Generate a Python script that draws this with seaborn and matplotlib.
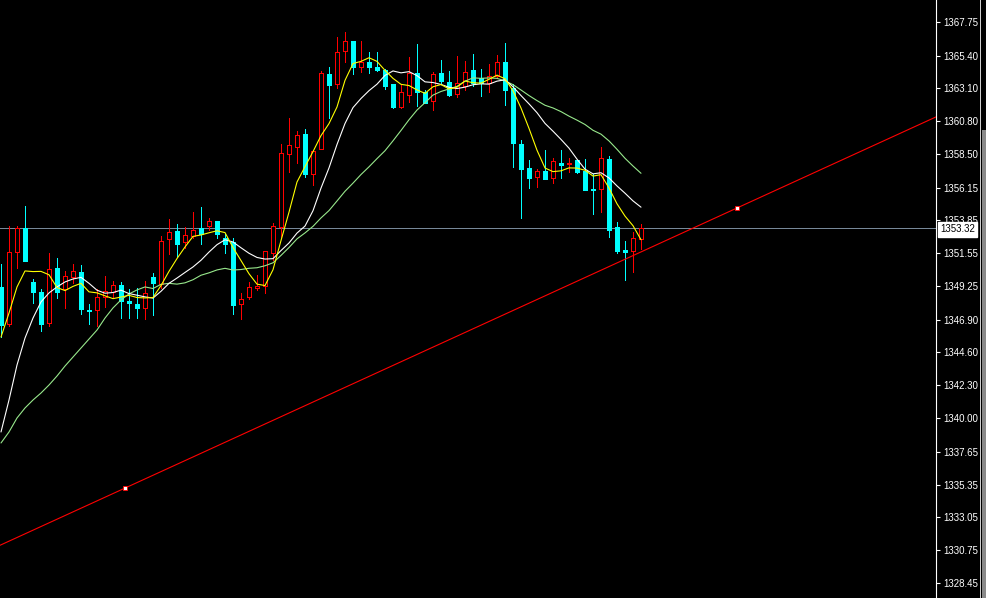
import numpy as np
import pandas as pd
import matplotlib
matplotlib.use("Agg")
import matplotlib.pyplot as plt
from matplotlib.patches import Rectangle
import seaborn as sns

# ---------------- data ----------------
opens = [1349.19, 1346.59, 1351.64, 1353.32, 1349.54, 1348.84, 1346.66, 1350.52, 1349.05, 1349.89,
         1350.24, 1347.57, 1347.57, 1348.49, 1348.84, 1349.33, 1348.21, 1348.00, 1347.72, 1349.89,
         1349.40, 1352.55, 1353.11, 1352.34, 1352.76, 1353.32, 1353.46, 1353.81, 1352.62, 1352.34,
         1348.00, 1348.49, 1349.15, 1349.26, 1351.57, 1353.39, 1358.50, 1358.99, 1359.90, 1357.10,
         1358.85, 1364.11, 1363.41, 1365.72, 1366.42, 1364.60, 1364.95, 1364.60, 1364.39, 1363.41,
         1361.80, 1362.64, 1364.18, 1362.85, 1362.22, 1364.18, 1363.55, 1362.71, 1363.27, 1364.39,
         1363.83, 1363.48, 1363.97, 1364.95, 1363.13, 1359.20, 1357.52, 1356.89, 1357.31, 1356.82,
         1357.87, 1357.78, 1358.08, 1357.31, 1356.05, 1356.05, 1358.15, 1353.39, 1351.78, 1351.71,
         1352.55]
highs = [1350.80, 1353.46, 1353.46, 1354.86, 1349.75, 1349.05, 1351.57, 1351.22, 1350.31, 1350.80,
         1350.73, 1348.00, 1349.05, 1349.96, 1349.61, 1349.54, 1349.05, 1349.12, 1349.61, 1350.17,
         1352.76, 1353.95, 1353.60, 1353.39, 1354.44, 1354.79, 1354.02, 1353.81, 1352.90, 1352.62,
         1348.77, 1349.54, 1350.03, 1351.71, 1353.67, 1359.20, 1361.02, 1360.11, 1360.25, 1358.71,
         1364.32, 1364.60, 1366.70, 1367.05, 1366.42, 1366.42, 1365.65, 1365.65, 1364.46, 1363.41,
         1363.41, 1365.30, 1366.21, 1362.99, 1364.25, 1365.09, 1364.32, 1365.37, 1365.02, 1365.51,
         1364.46, 1364.81, 1365.44, 1366.28, 1363.41, 1359.48, 1358.08, 1357.45, 1358.78, 1358.22,
         1358.78, 1358.22, 1358.08, 1358.15, 1357.10, 1358.99, 1358.36, 1353.74, 1352.41, 1353.04,
         1353.60]
lows = [1345.68, 1346.45, 1350.52, 1351.01, 1348.07, 1346.10, 1346.45, 1348.42, 1347.72, 1349.47,
        1347.29, 1346.59, 1346.45, 1347.79, 1348.42, 1347.01, 1347.01, 1347.01, 1346.94, 1347.22,
        1349.12, 1351.50, 1351.29, 1351.92, 1352.62, 1352.20, 1353.18, 1352.62, 1351.57, 1347.29,
        1346.94, 1348.35, 1348.98, 1348.77, 1351.08, 1352.69, 1357.24, 1357.87, 1356.89, 1356.33,
        1358.85, 1361.02, 1363.13, 1364.95, 1364.11, 1364.25, 1364.18, 1364.32, 1363.06, 1361.73,
        1361.73, 1362.15, 1361.87, 1362.08, 1361.58, 1363.48, 1362.57, 1362.50, 1362.99, 1363.27,
        1362.57, 1362.85, 1363.83, 1361.94, 1357.59, 1354.02, 1356.12, 1356.19, 1356.75, 1356.47,
        1356.82, 1357.24, 1357.17, 1355.98, 1354.30, 1354.44, 1352.69, 1351.57, 1349.68, 1350.24,
        1351.85]
closes = [1346.52, 1351.64, 1353.32, 1351.01, 1348.84, 1346.59, 1350.45, 1348.84, 1349.96, 1350.31,
          1347.65, 1347.47, 1348.49, 1348.91, 1349.33, 1348.21, 1348.07, 1347.72, 1348.77, 1349.47,
          1352.41, 1353.04, 1352.20, 1352.83, 1353.18, 1352.90, 1353.81, 1352.90, 1352.20, 1347.93,
          1348.35, 1349.19, 1349.26, 1351.71, 1353.46, 1358.57, 1359.13, 1359.83, 1357.10, 1358.71,
          1364.18, 1363.34, 1365.65, 1366.42, 1364.60, 1364.95, 1364.60, 1364.39, 1363.27, 1361.80,
          1362.85, 1364.18, 1362.85, 1362.08, 1364.11, 1363.62, 1362.64, 1363.48, 1364.25, 1363.48,
          1363.48, 1363.97, 1364.95, 1362.99, 1359.27, 1357.45, 1356.82, 1357.31, 1356.75, 1358.01,
          1357.73, 1357.85, 1357.24, 1355.98, 1355.98, 1358.22, 1353.18, 1351.71, 1351.67, 1352.62,
          1353.32]

# moving-average values at the left edge (history before the first visible bar)
ma5_head = [1345.68, 1347.36, 1349.19, 1350.31]
ma10_head = [1339.03, 1341.27, 1343.72, 1345.61, 1347.01, 1348.14, 1348.77, 1349.19, 1349.54]
ma20_head = [1338.26, 1339.03, 1340.01, 1340.71, 1341.27, 1341.76, 1342.32, 1342.95, 1343.65,
             1344.28, 1344.91, 1345.54, 1346.17, 1347.01, 1347.72, 1348.28, 1348.70, 1348.98,
             1349.19]

trend_x = [15.5, 92.0]
trend_y = [1335.10, 1354.72]
current_price = 1353.32
tick_labels = ["1367.75", "1365.40", "1363.10", "1360.80", "1358.50", "1356.15", "1353.85",
               "1351.55", "1349.25", "1346.90", "1344.60", "1342.30", "1340.00", "1337.65",
               "1335.35", "1333.05", "1330.75", "1328.45"]

# ---------------- styling ----------------
sns.set_theme(style="dark")
plt.rcParams["font.family"] = ["Liberation Sans", "DejaVu Sans"]

W, H = 986, 598
PX = 0.72  # one pixel in points at 100 dpi
fig = plt.figure(figsize=(W / 100, H / 100), dpi=100, facecolor="black")
ax = fig.add_axes([0, 0, 936 / W, 1])
ax.set_facecolor("black")

df = pd.DataFrame({"i": np.arange(len(closes)), "open": opens, "high": highs,
                   "low": lows, "close": closes})


def sma(period, head):
    s = df["close"].rolling(period).mean()
    s.iloc[:len(head)] = head
    return s


df["MA20"] = sma(20, ma20_head)
df["MA10"] = sma(10, ma10_head)
df["MA5"] = sma(5, ma5_head)

bull = df["close"] >= df["open"]
red, cyan = "#FF0000", "#00FFFF"
colors = np.where(bull, red, cyan)
faces = np.where(bull, "black", cyan)

# bid line
ax.axhline(current_price, color="#778899", lw=PX, zorder=1, antialiased=False)

# wicks and bodies
ax.vlines(df["i"], df["low"], df["high"], colors=colors, lw=PX, zorder=2,
          antialiased=False)
body_bottom = np.minimum(df["open"], df["close"])
body_height = np.abs(df["close"] - df["open"])
ax.bar(df["i"], body_height, bottom=body_bottom, width=0.55, color=faces,
       edgecolor=colors, linewidth=PX, zorder=3, antialiased=False)

# moving averages
long_df = df.melt(id_vars="i", value_vars=["MA20", "MA10", "MA5"],
                  var_name="ma", value_name="value")
sns.lineplot(data=long_df, x="i", y="value", hue="ma",
             hue_order=["MA20", "MA10", "MA5"],
             palette={"MA20": "#98E88C", "MA10": "white", "MA5": "#FFFF00"},
             estimator=None, sort=False, legend=False, linewidth=0.8, ax=ax, zorder=4)

# trend line
ax.axline((trend_x[0], trend_y[0]), (trend_x[1], trend_y[1]), color=red, lw=0.8, zorder=5)
ax.scatter(trend_x, trend_y, marker="s", s=8, facecolor="white", edgecolor=red,
           linewidth=0.6, zorder=6)

# axes
ax.set_xlim(-0.125, 116.875)
ax.set_ylim(1327.40, 1369.29)
ax.set_xticks([])
ax.set_xlabel("")
ax.set_ylabel("")
ax.yaxis.tick_right()
ax.set_yticks([float(t) for t in tick_labels])
ax.set_yticklabels(tick_labels)
ax.tick_params(axis="y", colors="white", length=3, width=0.8, labelsize=7, pad=2,
               labelcolor="white")
for side in ["top", "left", "bottom"]:
    ax.spines[side].set_visible(False)
ax.spines["right"].set_visible(True)
ax.spines["right"].set_color("white")
ax.spines["right"].set_linewidth(0.8)
ax.grid(False)

# current price label
ax.annotate(f"{current_price:.2f}", xy=(1, current_price),
            xycoords=("axes fraction", "data"), xytext=(3, -1), textcoords="offset points",
            ha="left", va="center", fontsize=7, color="black", zorder=10,
            bbox=dict(boxstyle="square,pad=0.25", fc="white", ec="white"),
            annotation_clip=False)

# window border on the far right
fig.patches.append(Rectangle((980 / W, 0), 1 / W, 1, transform=fig.transFigure,
                             facecolor="#d0d0d0", edgecolor="none"))
fig.patches.append(Rectangle((982 / W, 0), 4 / W, (H - 130) / H, transform=fig.transFigure,
                             facecolor="#8a8a8a", edgecolor="none"))

fig.savefig("out.png", dpi=100, facecolor="black")
